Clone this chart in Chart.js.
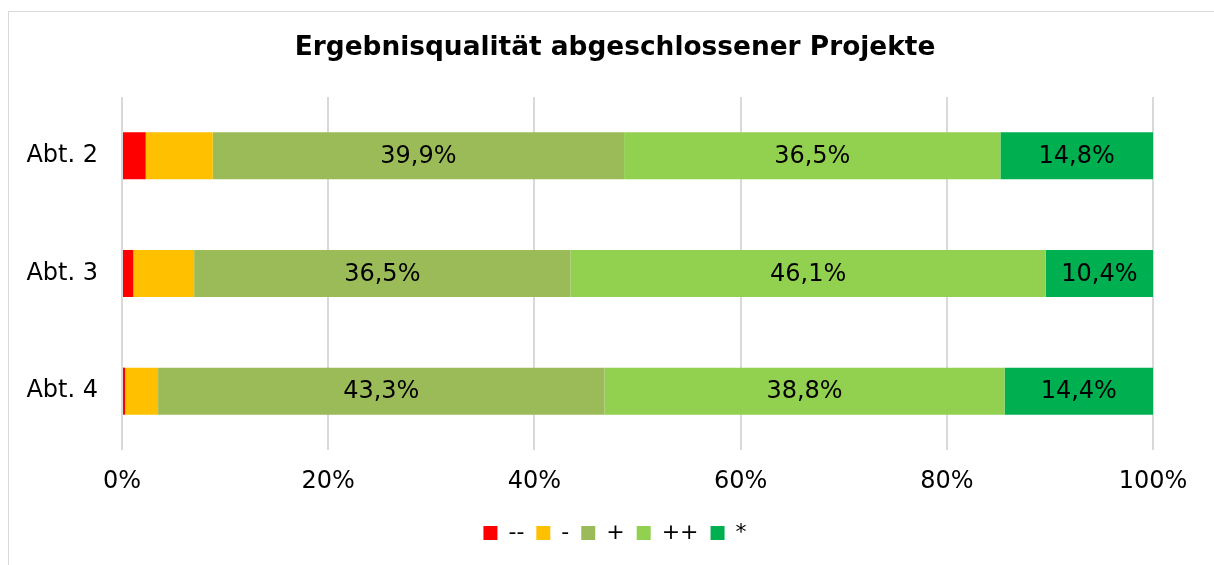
<!DOCTYPE html>
<html>
<head>
<meta charset="utf-8">
<script src="https://cdn.jsdelivr.net/npm/chart.js@4"></script>
<style>
  html, body { margin: 0; padding: 0; background: #fff; overflow: hidden; }
  #frame { position: absolute; left: 8px; top: 11px; width: 1230px; height: 600px; border: 1px solid #d9d9d9; }
  #wrap { position: absolute; left: 0; top: 0; width: 1214px; height: 565px; }
</style>
</head>
<body>
<div id="frame"></div>
<div id="wrap"><canvas id="chart"></canvas></div>
<script>
// categories + series (percent shares per department)
const departments = ['Abt. 2', 'Abt. 3', 'Abt. 4'];
const seriesNames = ['--', '-', '+', '++', '*'];
const seriesColors = ['#ff0000', '#ffc000', '#9bbb59', '#92d050', '#00b050'];

const valsVeryBad  = [2.3, 1.1, 0.3];   // --
const valsBad      = [6.5, 5.9, 3.2];   // -
const valsGood     = [39.9, 36.5, 43.3]; // +
const valsVeryGood = [36.5, 46.1, 38.8]; // ++
const valsStar     = [14.8, 10.4, 14.4]; // *

const xTicks = [0, 20, 40, 60, 80, 100];
const FONT = '"DejaVu Sans", Verdana, sans-serif';

const seriesValues = [valsVeryBad, valsBad, valsGood, valsVeryGood, valsStar];

// Value labels inside the bars (only the big segments get one)
const barLabels = {
    id: 'barLabels',
    afterDatasetsDraw(chart) {
        const ctx = chart.ctx;
        ctx.save();
        ctx.font = '24px ' + FONT;
        ctx.fillStyle = '#000';
        ctx.textAlign = 'center';
        ctx.textBaseline = 'middle';
        chart.data.datasets.forEach((ds, i) => {
            const meta = chart.getDatasetMeta(i);
            meta.data.forEach((bar, j) => {
                const v = ds.data[j];
                if (v < 10) return;
                const p = bar.getCenterPoint();
                ctx.fillText(v.toFixed(1).replace('.', ',') + '%', p.x, p.y + 1);
            });
        });
        ctx.restore();
    }
};

new Chart(document.getElementById('chart'), {
    type: 'bar',
    data: {
        labels: departments,
        datasets: seriesNames.map((name, i) => ({
            label: name,
            data: seriesValues[i],
            backgroundColor: seriesColors[i],
            borderWidth: 0,
            categoryPercentage: 1,
            barPercentage: 0.4
        }))
    },
    options: {
        indexAxis: 'y',
        responsive: true,
        maintainAspectRatio: false,
        animation: false,
        layout: { padding: { left: 16, right: 0, top: 0, bottom: 11 } },
        plugins: {
            title: {
                display: true,
                text: 'Ergebnisqualität abgeschlossener Projekte',
                color: '#000',
                font: { family: FONT, size: 26.4, weight: 'bold' },
                padding: { top: 32.2, bottom: 33.1 }
            },
            legend: {
                position: 'bottom',
                labels: {
                    color: '#000',
                    font: { family: FONT, size: 22 },
                    boxWidth: 14,
                    boxHeight: 14,
                    padding: 12
                }
            },
            tooltip: { enabled: false }
        },
        scales: {
            x: {
                stacked: true,
                min: 0,
                max: 100,
                afterBuildTicks: axis => { axis.ticks = xTicks.map(v => ({ value: v })); },
                afterFit: axis => { axis.height = 60; axis.paddingRight = 61; },
                ticks: {
                    color: '#000',
                    font: { family: FONT, size: 24 },
                    padding: 17.6,
                    maxRotation: 0,
                    callback: v => v + '%'
                },
                grid: { color: '#d9d9d9', lineWidth: 2, drawTicks: false },
                border: { display: false }
            },
            y: {
                stacked: true,
                afterFit: axis => { axis.width = 106; },
                ticks: {
                    color: '#000',
                    font: { family: FONT, size: 24 },
                    padding: 24
                },
                grid: { display: false, drawTicks: false },
                border: { display: false }
            }
        }
    },
    plugins: [barLabels]
});
</script>
</body>
</html>
